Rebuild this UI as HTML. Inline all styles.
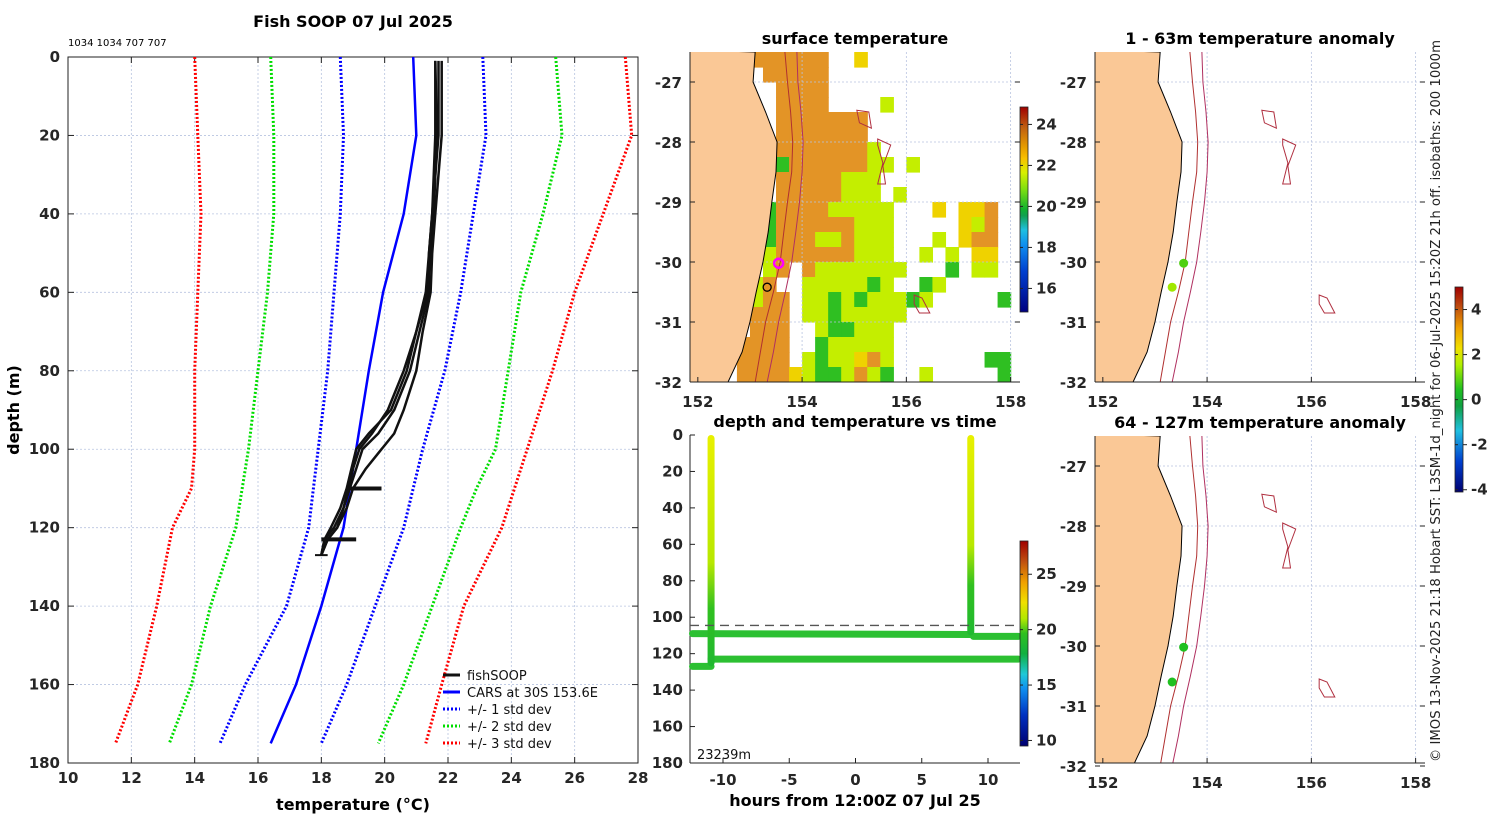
<!DOCTYPE html>
<html><head><meta charset="utf-8"><style>
html,body{margin:0;padding:0;background:#fff}
svg{display:block;font-family:"DejaVu Sans","Liberation Sans",sans-serif}
.tk{font-size:15px;font-weight:bold;fill:#262626}
.ttl{font-size:16px;font-weight:bold;fill:#000}
</style></head><body>
<svg id="fig" width="1500" height="820" viewBox="0 0 1500 820">
<defs>
<linearGradient id="sstcb" x1="0" y1="1" x2="0" y2="0">
<stop offset="0" stop-color="#000080"/><stop offset="0.2" stop-color="#0040d0"/><stop offset="0.33" stop-color="#1090f0"/><stop offset="0.4" stop-color="#20c0e0"/><stop offset="0.47" stop-color="#10a050"/><stop offset="0.5" stop-color="#10b030"/><stop offset="0.6" stop-color="#80e010"/><stop offset="0.68" stop-color="#d8f000"/><stop offset="0.75" stop-color="#f8c000"/><stop offset="0.8" stop-color="#e8a000"/><stop offset="0.9" stop-color="#c06010"/><stop offset="1" stop-color="#a00000"/></linearGradient>
<linearGradient id="tcb" x1="0" y1="1" x2="0" y2="0">
<stop offset="0" stop-color="#000070"/><stop offset="0.15" stop-color="#0030c0"/><stop offset="0.28" stop-color="#1090f0"/><stop offset="0.35" stop-color="#20c8d8"/><stop offset="0.45" stop-color="#10b040"/><stop offset="0.55" stop-color="#30c020"/><stop offset="0.62" stop-color="#b0e800"/><stop offset="0.7" stop-color="#f0e000"/><stop offset="0.8" stop-color="#f0a000"/><stop offset="0.9" stop-color="#c05010"/><stop offset="1" stop-color="#a00000"/></linearGradient>
<linearGradient id="acb" x1="0" y1="1" x2="0" y2="0">
<stop offset="0" stop-color="#000070"/><stop offset="0.15" stop-color="#0040d0"/><stop offset="0.3" stop-color="#20c0e0"/><stop offset="0.42" stop-color="#10a040"/><stop offset="0.5" stop-color="#20c020"/><stop offset="0.62" stop-color="#b0f000"/><stop offset="0.7" stop-color="#f0e000"/><stop offset="0.8" stop-color="#f0a000"/><stop offset="0.9" stop-color="#c05010"/><stop offset="1" stop-color="#a00000"/></linearGradient>
<linearGradient id="vgrad" x1="0" y1="0" x2="0" y2="1">
<stop offset="0" stop-color="#e8f000"/><stop offset="0.55" stop-color="#b8e800"/><stop offset="0.75" stop-color="#30c020"/><stop offset="1" stop-color="#20b830"/></linearGradient>
<clipPath id="cm1"><rect x="690" y="52" width="330" height="330"/></clipPath>
<clipPath id="cm2"><rect x="1095" y="52" width="330" height="330"/></clipPath>
<clipPath id="cm3"><rect x="1095" y="436" width="330" height="327"/></clipPath>
</defs>
<g id="main"></g>
<g id="sst"></g>
<g id="dt"></g>
<g id="an1"></g>
<g id="an2"></g>
<text x="1440" y="401" transform="rotate(-90 1440 401)" text-anchor="middle" font-size="13" textLength="722" lengthAdjust="spacingAndGlyphs" fill="#222">© IMOS 13-Nov-2025 21:18 Hobart SST: L3SM-1d_night for 06-Jul-2025 15:20Z 21h off. isobaths: 200  1000m</text>
</svg>
<script>
// ---------- data ----------
const depthLevels=[0,20,40,60,80,100,110,120,140,160,175];
const carsMean=[20.9,21.0,20.6,19.95,19.5,19.1,18.9,18.7,18.0,17.2,16.4];
const std1Lo=[18.6,18.7,18.6,18.4,18.2,17.9,17.75,17.6,16.9,15.6,14.8];
const std1Hi=[23.1,23.2,22.8,22.4,21.9,21.2,20.9,20.6,19.7,18.8,18.0];
const std2Lo=[16.4,16.5,16.5,16.3,16.0,15.7,15.5,15.3,14.5,13.9,13.2];
const std2Hi=[25.4,25.6,25.0,24.3,23.9,23.5,22.9,22.4,21.5,20.6,19.8];
const std3Lo=[14.0,14.1,14.2,14.1,14.0,14.0,13.9,13.3,12.8,12.2,11.5];
const std3Hi=[27.6,27.8,26.9,26.0,25.3,24.5,24.1,23.7,22.5,21.8,21.3];
const profDepth=[1,20,40,50,60,70,80,90,96,100,105,110,115,120,123,127];
const prof1=[21.6,21.6,21.5,21.4,21.4,21.1,20.8,20.3,19.8,19.3,19.1,18.9,18.7,18.5,18.2,18.0];
const prof2=[21.6,21.65,21.55,21.45,21.35,21.0,20.6,20.1,19.6,19.2,19.0,18.85,18.7,18.4,18.1,18.0];
const prof3=[21.8,21.8,21.6,21.5,21.45,21.2,21.0,20.6,20.3,19.9,19.4,19.0,18.8,18.5,18.2,18.0];
const prof4=[21.7,21.7,21.5,21.4,21.3,21.0,20.7,20.2,19.5,19.1,18.95,18.8,18.6,18.3,18.1,18.0];
const xTicks=[10,12,14,16,18,20,22,24,26,28];
const yTicks=[0,20,40,60,80,100,120,140,160,180];
// SST grid: 0.25° cells, rows from lat -26.625 southward, cols from lon 152.875 eastward
// o=23, y=21, Y=22, G/g=20, .=no data
const sstRows=[
".oooooo..Y...........",
"..ooooo..............",
"...oooo..............",
"...oooo....y.........",
"...ooooooo...........",
"...ooooooo...........",
"...oooooooy..........",
"...Gooooooyy.y........".slice(0,21),
"...oooooyyy..........",
"...oooooyyy.y........",
"..Gooooyyyyy...Y.YYo.",
"..Gooooooyyy.....Yyo.",
"..Goooyyoyyy...y.Yoo.",
"..yooooooyyy..y.y.YY.",
"..yo.oyyyyyyy...G.yy.",
".yo..yyyyyGy..Gy.....",
".yoo.yyGyGyyyGy.....G",
".ooo.yyGyyyyy........",
".ooo..yGGyyy.........",
"oooo..Gyyyyy.........",
"oooo.yGyyYoy.......GG",
"ooooYyGGyoyG..y.....g"];
const sstCodeVal={o:23,y:21,Y:22,G:20,g:20};
const sstLon0=152.875, sstLat0=-26.625, sstStep=0.25;
const coastLat=[-26.5,-27,-27.5,-28,-28.5,-29,-29.5,-30,-30.5,-31,-31.5,-32];
const coastLon=[153.1,153.06,153.3,153.52,153.5,153.42,153.35,153.25,153.12,153.0,152.85,152.58];
const iso200Lon=[153.67,153.72,153.78,153.82,153.8,153.72,153.65,153.58,153.45,153.3,153.2,153.1];
const iso1000Lon=[153.9,153.92,153.98,154.02,154.0,153.95,153.88,153.8,153.68,153.55,153.45,153.33];
const seamounts=[[[155.05,-27.47],[155.28,-27.5],[155.33,-27.77],[155.1,-27.68]],[[155.45,-27.95],[155.7,-28.05],[155.55,-28.4],[155.6,-28.7],[155.45,-28.7],[155.55,-28.35],[155.45,-28.05]],[[156.15,-30.55],[156.3,-30.6],[156.45,-30.85],[156.25,-30.85],[156.15,-30.7]]];
const hourTicks=[-10,-5,0,5,10];
const tempCbTicks=[10,15,20,25];
const sstCbTicks=[16,18,20,22,24];
const anomCbTicks=[-4,-2,0,2,4];
const ctdStations=[[153.55,-30.02],[153.33,-30.42]];
const anom1=[1.0,1.8];
const anom2=[0.3,0.2];
const dtSegs=[[-12.3,-10.9,127,127],[-10.9,12.3,123,123],[-12.3,8.7,109,109.5],[8.9,12.3,110.5,110.5]];
const dtCasts=[[-10.9,0,127],[8.7,0,110]];
const dtDashDepth=104.5;

// ---------- helpers ----------
const NS='http://www.w3.org/2000/svg';
function mk(parent,tag,attrs,txt){const e=document.createElementNS(NS,tag);for(const k in attrs)e.setAttribute(k,attrs[k]);if(txt!==undefined)e.textContent=txt;parent.appendChild(e);return e;}
function line(p,x1,y1,x2,y2,st){return mk(p,'line',Object.assign({x1,y1,x2,y2},st));}
function poly(p,xs,ys,st){return mk(p,'polyline',Object.assign({points:xs.map((x,i)=>x.toFixed(1)+','+ys[i].toFixed(1)).join(' '),fill:'none'},st));}
const grid={stroke:'#b8c4e0','stroke-width':0.8,'stroke-dasharray':'2,2'};

// ---------- main profile ----------
const M=document.getElementById('main');
const mx=t=>68+(t-10)*(570/18), my=d=>57+d*(706/180);
xTicks.forEach(t=>{line(M,mx(t),57,mx(t),763,grid);line(M,mx(t),763,mx(t),757,{stroke:'#222'});line(M,mx(t),57,mx(t),63,{stroke:'#222'});
 const e=mk(M,'text',{x:mx(t),y:783,'text-anchor':'middle',class:'tk'},t);});
yTicks.forEach(d=>{line(M,68,my(d),638,my(d),grid);line(M,68,my(d),74,my(d),{stroke:'#222'});line(M,638,my(d),632,my(d),{stroke:'#222'});
 const e=mk(M,'text',{x:60,y:my(d)+5,'text-anchor':'end',class:'tk'},d);});
mk(M,'rect',{x:68,y:57,width:570,height:706,fill:'none',stroke:'#222','stroke-width':1});
function env(arr,col,name){const e=poly(M,arr.map(mx),depthLevels.map(my),{stroke:col,'stroke-width':3,'stroke-dasharray':'2,2'});}
env(std3Lo,'#f00','std3-low');env(std3Hi,'#f00','std3-high');
env(std2Lo,'#0d0','std2-low');env(std2Hi,'#0d0','std2-high');
env(std1Lo,'#00f','std1-low');env(std1Hi,'#00f','std1-high');
{const e=poly(M,carsMean.map(mx),depthLevels.map(my),{stroke:'#00f','stroke-width':2.5});}
[prof1,prof2,prof3,prof4].forEach(p=>{const e=poly(M,p.map(mx),profDepth.map(my),{stroke:'#111','stroke-width':2.5});});
line(M,mx(18.9),my(110),mx(19.9),my(110),{stroke:'#111','stroke-width':4});
line(M,mx(18.0),my(123),mx(19.1),my(123),{stroke:'#111','stroke-width':4});
line(M,mx(17.8),my(127),mx(18.2),my(127),{stroke:'#111','stroke-width':2});
mk(M,'text',{x:353,y:27,'text-anchor':'middle',class:'ttl'},'Fish SOOP 07 Jul 2025');
mk(M,'text',{x:68,y:46,'font-size':10,fill:'#000'},'1034 1034 707 707');
mk(M,'text',{x:353,y:810,'text-anchor':'middle',class:'ttl','font-size':17},'temperature (°C)');
mk(M,'text',{x:19,y:410,'text-anchor':'middle',class:'ttl',transform:'rotate(-90 19 410)'},'depth (m)');
const leg=[['fishSOOP','#111',''],['CARS at 30S 153.6E','#00f',''],['+/- 1 std dev','#00f','2,2'],['+/- 2 std dev','#0d0','2,2'],['+/- 3 std dev','#f00','2,2']];
leg.forEach((l,i)=>{const y=675+i*17;line(M,443,y,460,y,{stroke:l[1],'stroke-width':3,'stroke-dasharray':l[2]||'none'});
 const e=mk(M,'text',{x:467,y:y+5,'font-size':13,fill:'#111'},l[0]);});

// ---------- maps ----------
const sstColors={o:'#e39426',y:'#c4ee00',Y:'#efd200',G:'#2fbf22',g:'#2fbf22'};
function drawMap(G,x0,y0,w,h,clipId,pyScale,title,withSST){
 const px=lon=>x0+(lon-151.85)*(w/6.33), py=lat=>y0+(-26.5-lat)*pyScale;
 const C=mk(G,'g',{'clip-path':'url(#'+clipId+')'});
 if(withSST){sstRows.forEach((row,r)=>row.split('').forEach((ch,c)=>{if(!(ch in sstCodeVal))return;
  const lon=sstLon0+c*sstStep, lat=sstLat0-r*sstStep;
  const e=mk(C,'rect',{x:px(lon-sstStep/2),y:py(lat+sstStep/2),width:sstStep*w/6.33+0.6,height:sstStep*pyScale+0.6,fill:sstColors[ch]});
  }));}
 [152,154,156,158].forEach(l=>line(C,px(l),y0,px(l),y0+h,grid));
 [-27,-28,-29,-30,-31,-32].forEach(l=>line(C,x0,py(l),x0+w,py(l),grid));
 const lx=coastLon.map(px),ly=coastLat.map(py);
 const pts=[[x0,y0-2]].concat(lx.map((x,i)=>[x,ly[i]])).concat([[px(152.45),y0+h+5],[x0,y0+h+5]]);
 const land=mk(C,'polygon',{points:pts.map(p=>p.join(',')).join(' '),fill:'#fac896',stroke:'#000','stroke-width':1});
 
 poly(C,iso200Lon.map(px),ly,{stroke:'#b03030','stroke-width':1});
 poly(C,iso1000Lon.map(px),ly,{stroke:'#b03060','stroke-width':1});
 seamounts.forEach(s=>{const e=mk(C,'polygon',{points:s.map(p=>px(p[0])+','+py(p[1])).join(' '),fill:'none',stroke:'#b03040','stroke-width':1});});
 line(G,x0,y0+h,x0+w,y0+h,{stroke:'#222'});line(G,x0,y0,x0,y0+h,{stroke:'#222'});
 [152,154,156,158].forEach(l=>{line(G,px(l),y0+h,px(l),y0+h-5,{stroke:'#222'});const e=mk(G,'text',{x:px(l),y:y0+h+25,'text-anchor':'middle',class:'tk'},l);});
 [-27,-28,-29,-30,-31,-32].forEach(l=>{line(G,x0,py(l),x0+5,py(l),{stroke:'#222'});line(G,x0+w,py(l),x0+w-5,py(l),{stroke:'#222'});const e=mk(G,'text',{x:x0-8,y:py(l)+6,'text-anchor':'end',class:'tk'},l);});
 mk(G,'text',{x:x0+w/2,y:y0-8,'text-anchor':'middle',class:'ttl','font-size':16},title);
 return {px,py};
}
function colorbar(G,x,y,h,grad,lo,hi,ticks){
 mk(G,'rect',{x,y,width:8,height:h,fill:'url(#'+grad+')',stroke:'#222','stroke-width':0.8});
 ticks.forEach(t=>{const yy=y+h-(t-lo)/(hi-lo)*h;line(G,x+8,yy,x+12,yy,{stroke:'#222'});line(G,x,yy,x+3,yy,{stroke:'#222'});
 const e=mk(G,'text',{x:x+16,y:yy+5,class:'tk','font-size':13},t);});
}

const S=document.getElementById('sst');
const m1=drawMap(S,690,52,330,330,'cm1',60,'surface temperature',true);
colorbar(S,1020,107,205,'sstcb',14.85,24.85,sstCbTicks);
{const e=mk(S,'circle',{cx:m1.px(ctdStations[0][0]),cy:m1.py(ctdStations[0][1]),r:4.5,fill:'none',stroke:'#f0f','stroke-width':2.5});
 const f=mk(S,'circle',{cx:m1.px(ctdStations[1][0]),cy:m1.py(ctdStations[1][1]),r:4,fill:'none',stroke:'#000','stroke-width':1.3});}

function anomColor(v){const s=[[-4,'#000080'],[-2,'#20c0e0'],[-0.5,'#10a040'],[0,'#20c020'],[0.8,'#50d010'],[1.5,'#a0e800'],[2,'#d8f000'],[3,'#f0a000'],[4,'#c05010']];for(let i=s.length-1;i>=0;i--)if(v>=s[i][0])return s[i][1];return s[0][1];}
const A1=document.getElementById('an1');
const a1=drawMap(A1,1095,52,330,330,'cm2',60,'1 - 63m temperature anomaly',false);
colorbar(A1,1455,287,205,'acb',-4.1,5,anomCbTicks);
ctdStations.forEach((s,i)=>{const e=mk(A1,'circle',{cx:a1.px(s[0]),cy:a1.py(s[1]),r:4.5,fill:anomColor(anom1[i])});});
const A2=document.getElementById('an2');
const a2=drawMap(A2,1095,436,330,327,'cm3',60,'64 - 127m temperature anomaly',false);
ctdStations.forEach((s,i)=>{const e=mk(A2,'circle',{cx:a2.px(s[0]),cy:a2.py(s[1]-0.18*i),r:4.5,fill:anomColor(anom2[i])});});

// ---------- depth-time ----------
const D=document.getElementById('dt');
const hx=h=>855.5+h*13.25, dy=d=>435+d*(328/180);
line(D,690,435,690,763,{stroke:'#222'});line(D,690,763,1020,763,{stroke:'#222'});
hourTicks.forEach(h=>{line(D,hx(h),763,hx(h),758,{stroke:'#222'});const e=mk(D,'text',{x:hx(h),y:785,'text-anchor':'middle',class:'tk'},h);});
yTicks.forEach(d=>{line(D,690,dy(d),695,dy(d),{stroke:'#222'});const e=mk(D,'text',{x:683,y:dy(d)+5,'text-anchor':'end',class:'tk'},d);});
dtSegs.forEach(s=>{const e=line(D,hx(s[0]),dy(s[2]),hx(s[1]),dy(s[3]),{stroke:'#2cc032','stroke-width':7,'stroke-linecap':'round'});});
dtCasts.forEach(c=>{const e=mk(D,'rect',{x:hx(c[0])-3.5,y:dy(c[1]),width:7,height:dy(c[2])-dy(c[1]),rx:3.5,fill:'url(#vgrad)'});});
line(D,690,dy(dtDashDepth),1020,dy(dtDashDepth),{stroke:'#555','stroke-width':1.3,'stroke-dasharray':'9,6'});
colorbar(D,1020,541,205,'tcb',9.5,28,tempCbTicks);
mk(D,'text',{x:697,y:759,'font-size':13,fill:'#111'},'23239m');
mk(D,'text',{x:855,y:427,'text-anchor':'middle',class:'ttl'},'depth and temperature vs time');
mk(D,'text',{x:855,y:806,'text-anchor':'middle',class:'ttl'},'hours from 12:00Z 07 Jul 25');
</script>
</body></html>
